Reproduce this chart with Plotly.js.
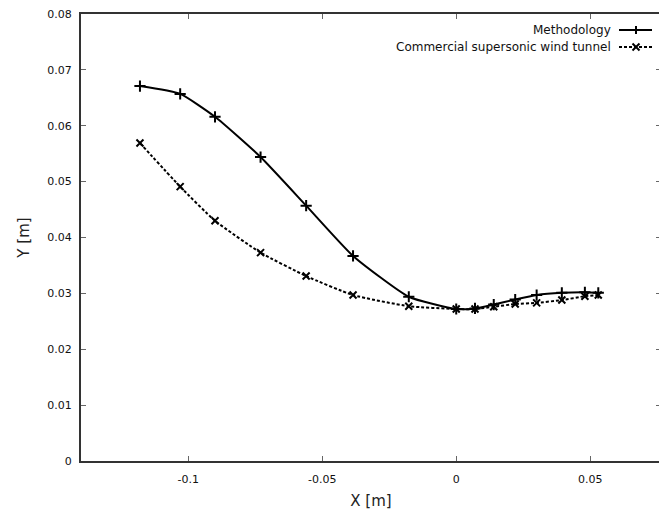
<!DOCTYPE html>
<html>
<head>
<meta charset="utf-8">
<script src="https://cdn.plot.ly/plotly-3.0.1.min.js"></script>
<style>html,body{margin:0;padding:0;background:#fff;overflow:hidden;}#chart{width:664px;height:510px;}</style>
</head>
<body>
<div id="chart"></div>
<script>
// X positions (m)
const xValues = [-0.118, -0.103, -0.090, -0.073, -0.056, -0.0385, -0.0177, 0.0, 0.007, 0.014, 0.022, 0.030, 0.0394, 0.048, 0.053];
// Methodology Y (m)
const methodologyY = [0.0671, 0.0657, 0.0616, 0.0544, 0.0457, 0.0367, 0.0294, 0.0272, 0.0273, 0.0280, 0.0289, 0.0297, 0.0301, 0.0302, 0.0301];
// Commercial supersonic wind tunnel Y (m)
const commercialY = [0.0569, 0.0491, 0.0430, 0.0373, 0.0331, 0.0297, 0.0277, 0.0272, 0.0272, 0.0276, 0.0281, 0.0283, 0.0288, 0.0295, 0.0297];
const seriesNames = ["Methodology", "Commercial supersonic wind tunnel"];
const xTickVals = [-0.1, -0.05, 0, 0.05];
const xTickText = ["-0.1", "-0.05", "0", "0.05"];

const FONT = "DejaVu Sans, Verdana, sans-serif";

const traces = [
  {
    x: xValues, y: methodologyY, name: seriesNames[0], type: "scatter", mode: "lines+markers",
    line: {color: "#000", width: 2, shape: "spline", smoothing: 0.5},
    marker: {symbol: "cross-thin", size: 8, color: "#000", line: {color: "#000", width: 2}},
    showlegend: false
  },
  {
    x: xValues, y: commercialY, name: seriesNames[1], type: "scatter", mode: "lines+markers",
    line: {color: "#000", width: 2, dash: "3px,2px", shape: "spline", smoothing: 0.5},
    marker: {symbol: "x-thin", size: 7, color: "#000", line: {color: "#000", width: 2}},
    showlegend: false
  }
];

// legend drawn in paper coordinates (text left of sample, like gnuplot)
const W = 664, H = 510, L = 81, R = 3, T = 14, B = 49;
const pw = W - L - R, ph = H - T - B;
function px(xp) { return (xp - L) / pw; }
function py(yp) { return (H - B - yp) / ph; }

const legY = [30, 47];
const sx0 = 619, sx1 = 652, mx = 636;
const shapes = [];
const annotations = [];
seriesNames.forEach((n, i) => {
  annotations.push({
    xref: "paper", yref: "paper", x: px(613), y: py(legY[i]), xanchor: "right", yanchor: "middle",
    text: n, showarrow: false, font: {family: FONT, size: 12, color: "#111"}
  });
  shapes.push({
    type: "line", xref: "paper", yref: "paper", x0: px(sx0), x1: px(sx1), y0: py(legY[i]), y1: py(legY[i]),
    line: {color: "#000", width: 2, dash: i === 0 ? "solid" : "3px,2px"}
  });
  const s = i === 0 ? 4 : 3.5;
  if (i === 0) {
    shapes.push({type: "line", xref: "paper", yref: "paper", x0: px(mx), x1: px(mx), y0: py(legY[i] - s), y1: py(legY[i] + s), line: {color: "#000", width: 2}});
  } else {
    shapes.push({type: "line", xref: "paper", yref: "paper", x0: px(mx - s), x1: px(mx + s), y0: py(legY[i] - s), y1: py(legY[i] + s), line: {color: "#000", width: 2}});
    shapes.push({type: "line", xref: "paper", yref: "paper", x0: px(mx - s), x1: px(mx + s), y0: py(legY[i] + s), y1: py(legY[i] - s), line: {color: "#000", width: 2}});
  }
});

const layout = {
  width: W, height: H,
  margin: {l: L, r: R, t: T, b: B, pad: 0},
  paper_bgcolor: "#fff", plot_bgcolor: "#fff",
  font: {family: FONT, size: 11, color: "#111"},
  showlegend: false,
  xaxis: {
    range: [-0.14, 0.0764], tickvals: xTickVals, ticktext: xTickText,
    ticks: "inside", ticklen: 5, tickwidth: 1, tickcolor: "#666",
    showline: true, linecolor: "#333", linewidth: 2, mirror: "ticks",
    showgrid: false, zeroline: false, ticklabelstandoff: 7,
    tickfont: {family: FONT, size: 11, color: "#111"},
    title: {text: "X [m]", font: {family: FONT, size: 15, color: "#222"}, standoff: 10}
  },
  yaxis: {
    range: [0, 0.08], dtick: 0.01, tick0: 0,
    ticks: "inside", ticklen: 5, tickwidth: 1, tickcolor: "#666",
    showline: true, linecolor: "#333", linewidth: 2, mirror: "ticks",
    showgrid: false, zeroline: false, ticklabelstandoff: 5,
    tickfont: {family: FONT, size: 11, color: "#111"},
    title: {text: "Y [m]", font: {family: FONT, size: 15, color: "#222"}, standoff: 14}
  },
  shapes: shapes,
  annotations: annotations
};

Plotly.newPlot("chart", traces, layout, {staticPlot: true, displayModeBar: false});
</script>
</body>
</html>
